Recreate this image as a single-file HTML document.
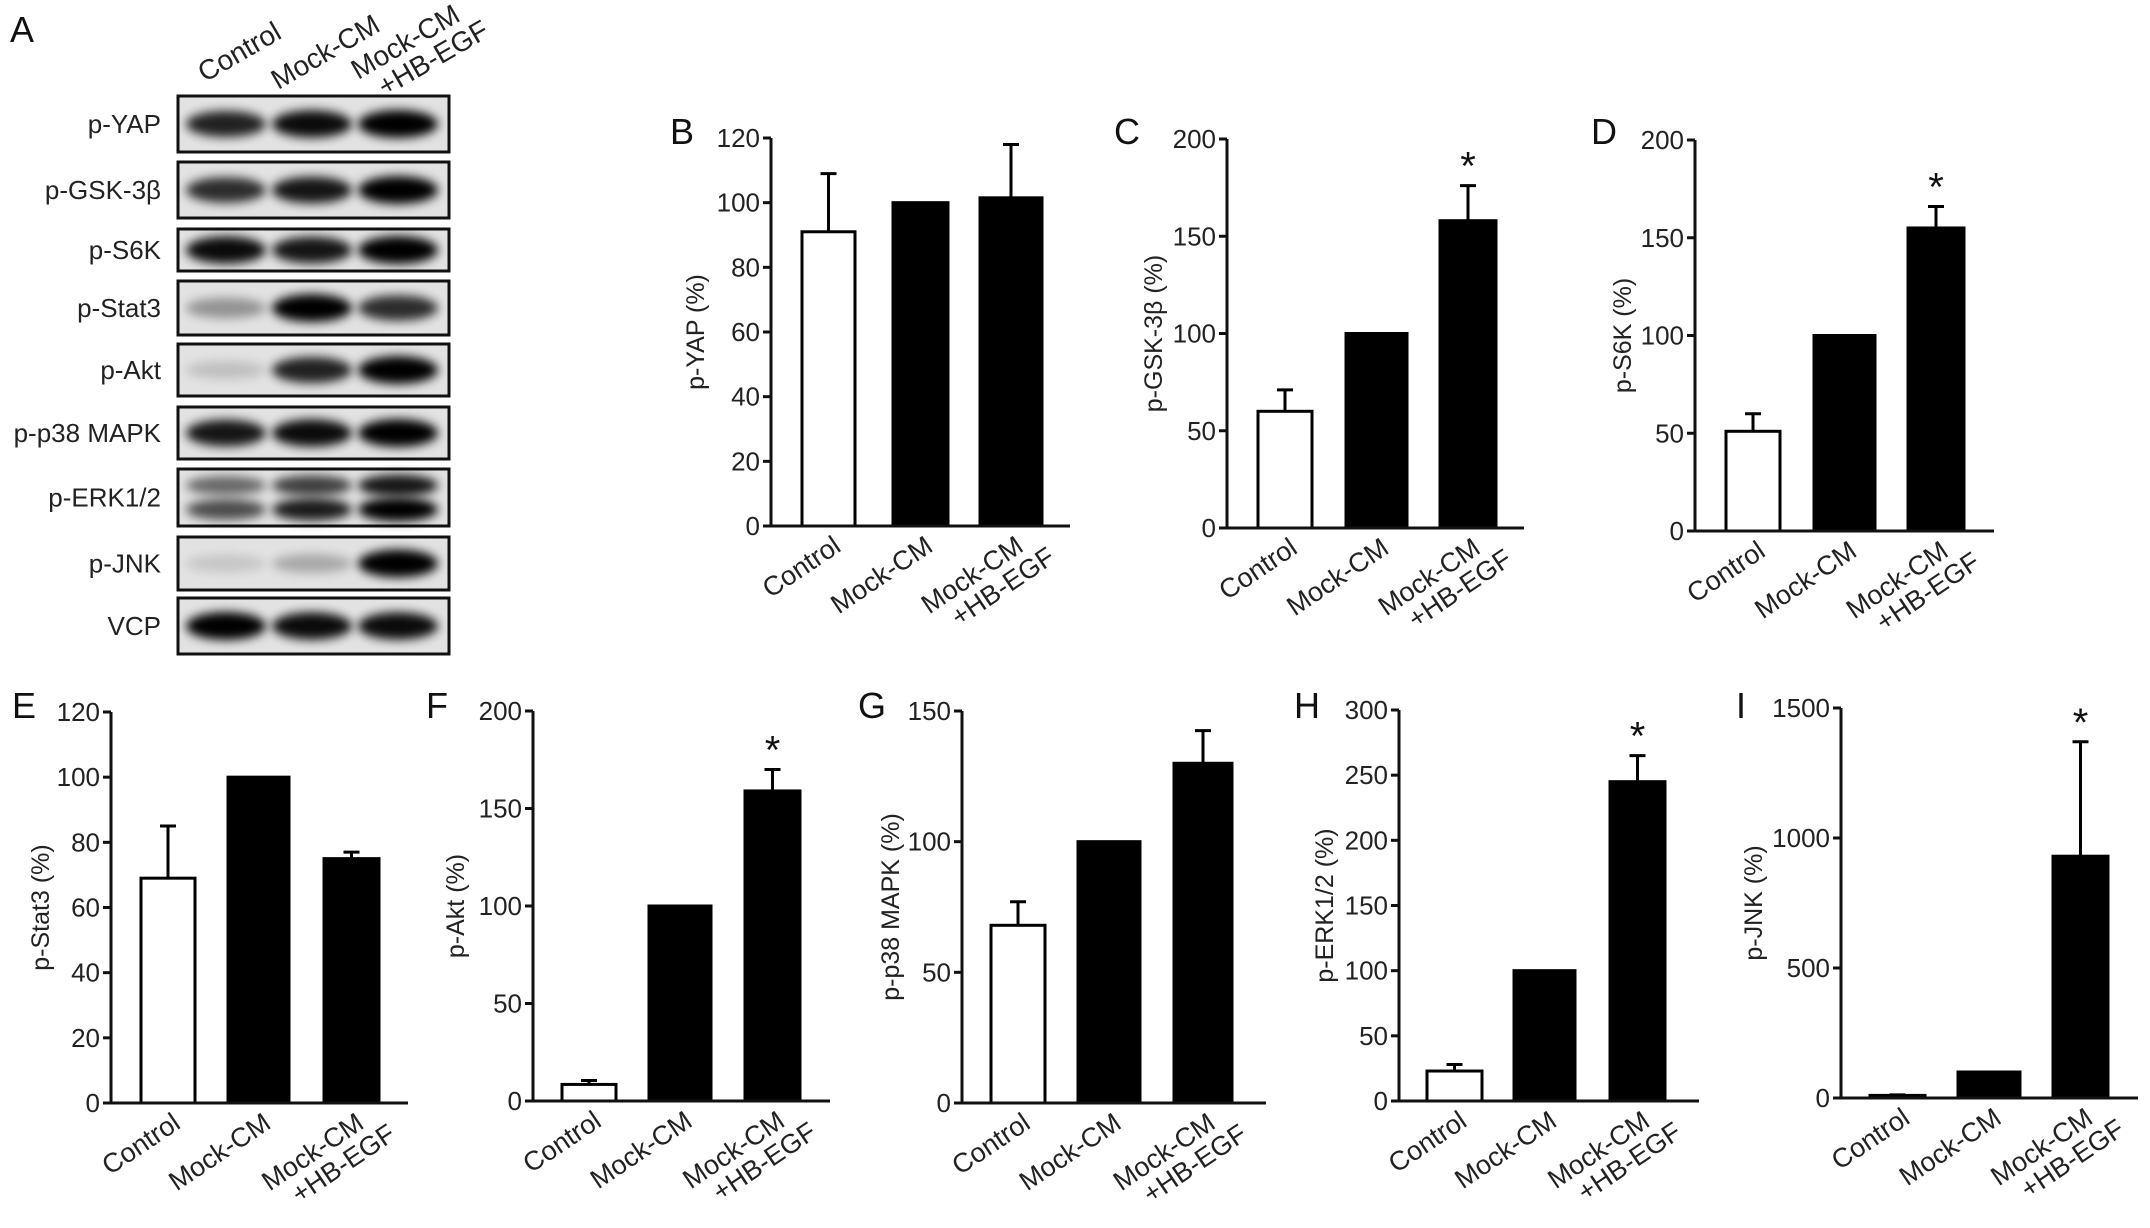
<!DOCTYPE html>
<html><head><meta charset="utf-8"><style>
html,body{margin:0;padding:0;background:#fff;}
svg{display:block;font-family:"Liberation Sans Narrow","Liberation Sans",sans-serif;}
</style></head><body>
<svg id="fig" width="2150" height="1228" viewBox="0 0 2150 1228" xmlns="http://www.w3.org/2000/svg">
<defs><filter id="blur" x="-30%" y="-100%" width="160%" height="300%"><feGaussianBlur stdDeviation="5"/></filter></defs>
<g id="blot"></g>
<g id="charts"></g>
</svg>
<script>
const categories = ["Control", "Mock-CM", "Mock-CM\n+HB-EGF"];
const blotLabels = ["p-YAP","p-GSK-3β","p-S6K","p-Stat3","p-Akt","p-p38 MAPK","p-ERK1/2","p-JNK","VCP"];
const yapValues = [91, 100, 101.5];
const yapErrors = [109, null, 118];
const gskValues = [60, 100, 158];
const gskErrors = [71, null, 176];
const s6kValues = [51, 100, 155];
const s6kErrors = [60, null, 166];
const stat3Values = [69, 100, 75];
const stat3Errors = [85, null, 77];
const aktValues = [8.5, 100, 159];
const aktErrors = [10.5, null, 170];
const p38Values = [68, 100, 130];
const p38Errors = [77, null, 142.5];
const erkValues = [23, 100, 245];
const erkErrors = [28, null, 265];
const jnkValues = [10, 100, 930];
const jnkErrors = [12, null, 1370];
const ticks120 = [0, 20, 40, 60, 80, 100, 120];
const ticks200 = [0, 50, 100, 150, 200];
const ticks150 = [0, 50, 100, 150];
const ticks300 = [0, 50, 100, 150, 200, 250, 300];
const ticks1500 = [0, 500, 1000, 1500];
const starsGsk = [false, false, true];
const starsNone = [false, false, false];

const NS = "http://www.w3.org/2000/svg";
function mk(tag, attrs, parent) {
  const e = document.createElementNS(NS, tag);
  for (const k in attrs) e.setAttribute(k, attrs[k]);
  parent.appendChild(e);
  return e;
}

// ---- Blot ----
const blot = document.getElementById('blot');
const rows = [[96,152],[162,218],[229,271],[281,335],[344,396],[407,459],[469,526],[537,590],[598,654]];
const bandI = [[0.85,0.95,1],[0.8,0.9,1],[0.95,0.9,1],[0.35,1,0.8],[0.15,0.85,1],[0.9,0.95,1],[0.6,0.8,1],[0.12,0.25,1],[1,0.95,0.95]];
const lanes = [226, 312, 398];
const A = mk('text', {x:10, y:42, 'font-size':36, fill:'#111', 'font-family':'Liberation Sans'}, blot);
A.textContent = 'A';


categories.forEach((c, i) => {
  const t = mk('text', {transform:`translate(${lanes[i]+ (i==2?12:18)},${i==2?50:60}) rotate(-30)`, 'font-size':28, fill:'#222', 'text-anchor':'middle'}, blot);
  
  
  c.split('\n').forEach((ln, j) => { const s = mk('tspan', {x: j*16, dy: j?'1.0em':'0'}, t); s.textContent = ln; });
});
rows.forEach((r, i) => {
  const g = mk('g', {}, blot);
  
  
  mk('rect', {x:178, y:r[0], width:271, height:r[1]-r[0], fill:'#e2e2e2', stroke:'#111', 'stroke-width':3}, g);
  const cy = (r[0]+r[1])/2;
  lanes.forEach((lx, j) => {
    const v = bandI[i][j];
    if (i === 6) {
      mk('ellipse', {cx:lx, cy:cy-12, rx:40, ry:7+4*v, fill:'#000', opacity:v*0.9, filter:'url(#blur)'}, g);
      mk('ellipse', {cx:lx, cy:cy+12, rx:40, ry:8+4*v, fill:'#000', opacity:Math.min(1,v*1.1), filter:'url(#blur)'}, g);
    } else {
      mk('ellipse', {cx:lx, cy:cy, rx:40, ry:8+6*v, fill:'#000', opacity:v, filter:'url(#blur)'}, g);
    }
  });
  const t = mk('text', {x:161, y:cy+9, 'font-size':26, fill:'#222', 'text-anchor':'end'}, g);
  t.textContent = blotLabels[i];
});

// ---- Charts ----
const charts = document.getElementById('charts');
function drawPanel(c) {
  const g = mk('g', {}, charts);
  
  
  const maxT = c.ticks[c.ticks.length-1];
  const yS = v => c.y0 - (v / maxT) * (c.y0 - c.yTop);
  const L = mk('text', {x:c.lx, y:c.ly, 'font-size':36, fill:'#111', 'font-family':'Liberation Sans'}, g);
  L.textContent = c.letter;
  
  
  c.values.forEach((v, i) => {
    const b = c.bars[i];
    const top = yS(v);
    const rect = mk('rect', {x:b[0], y:top, width:b[1]-b[0], height:c.y0-top, fill: i===0?'#fff':'#000', stroke:'#000', 'stroke-width':3}, g);
    
    
    const e = c.errs[i];
    if (e != null) {
      const cx = (b[0]+b[1])/2, ey = yS(e);
      const eb = mk('path', {d:`M${cx},${top} V${ey} M${cx-8},${ey} H${cx+8}`, stroke:'#000', 'stroke-width':3, fill:'none'}, g);
      
      
      if (c.stars[i]) {
        const s = mk('text', {x:cx, y:ey-6, 'font-size':40, 'text-anchor':'middle', fill:'#111', 'font-family':'Liberation Sans'}, g);
        s.textContent = '*';
        
        
      }
    }
  });
  const ax = mk('path', {d:`M${c.axisX},${c.yTop} V${c.y0} H${c.xEnd}`, stroke:'#111', 'stroke-width':3, fill:'none'}, g);
  
  
  c.ticks.forEach(t => {
    const y = yS(t);
    mk('line', {x1:c.axisX-8, x2:c.axisX, y1:y, y2:y, stroke:'#111', 'stroke-width':3}, g);
    const tl = mk('text', {x:c.axisX-11, y:y+9, 'font-size':26, 'text-anchor':'end', fill:'#222'}, g);
    tl.textContent = t;
    
    
  });
  const midY = (c.yTop + c.y0)/2;
  const yt = mk('text', {transform:`translate(${c.titleX},${midY}) rotate(-90)`, 'font-size':25, 'text-anchor':'middle', fill:'#222', 'font-family':'Liberation Sans'}, g);
  yt.textContent = c.title;
  
  
  categories.forEach((cat, i) => {
    const b = c.bars[i];
    const cx = (b[0]+b[1])/2 + 14;
    const t = mk('text', {transform:`translate(${cx},${c.y0+24}) rotate(-34)`, 'font-size':27, 'text-anchor':'end', fill:'#222'}, g);
    
    
    cat.split('\n').forEach((ln, j) => { const s = mk('tspan', {x: j*20, dy: j?'1.0em':'0'}, t); s.textContent = ln; });
  });
}
drawPanel({letter:'B', lx:670, ly:144, axisX:771, yTop:138, y0:526, xEnd:1070, ticks:ticks120, title:'p-YAP (%)', titleX:704,
  bars:[[802,855],[893,948],[980,1042]], values:yapValues, errs:yapErrors, stars:starsNone});
drawPanel({letter:'C', lx:1114, ly:144, axisX:1227, yTop:139, y0:528, xEnd:1524, ticks:ticks200, title:'p-GSK-3β (%)', titleX:1162,
  bars:[[1258,1312],[1346,1407],[1440,1496]], values:gskValues, errs:gskErrors, stars:starsGsk});
drawPanel({letter:'D', lx:1591, ly:144, axisX:1695, yTop:140, y0:531, xEnd:1994, ticks:ticks200, title:'p-S6K (%)', titleX:1631,
  bars:[[1726,1780],[1814,1875],[1908,1964]], values:s6kValues, errs:s6kErrors, stars:starsGsk});
drawPanel({letter:'E', lx:12, ly:718, axisX:111, yTop:712, y0:1103, xEnd:408, ticks:ticks120, title:'p-Stat3 (%)', titleX:49,
  bars:[[141,195],[228,289],[324,379]], values:stat3Values, errs:stat3Errors, stars:starsNone});
drawPanel({letter:'F', lx:426, ly:718, axisX:533, yTop:711, y0:1101, xEnd:830, ticks:ticks200, title:'p-Akt (%)', titleX:464,
  bars:[[562,616],[649,711],[745,800]], values:aktValues, errs:aktErrors, stars:starsGsk});
drawPanel({letter:'G', lx:858, ly:718, axisX:962, yTop:711, y0:1103, xEnd:1266, ticks:ticks150, title:'p-p38 MAPK (%)', titleX:899,
  bars:[[991,1045],[1078,1140],[1174,1232]], values:p38Values, errs:p38Errors, stars:starsNone});
drawPanel({letter:'H', lx:1294, ly:718, axisX:1399, yTop:710, y0:1101, xEnd:1699, ticks:ticks300, title:'p-ERK1/2 (%)', titleX:1333,
  bars:[[1427,1482],[1514,1575],[1610,1665]], values:erkValues, errs:erkErrors, stars:starsGsk});
drawPanel({letter:'I', lx:1736, ly:718, axisX:1841, yTop:708, y0:1098, xEnd:2138, ticks:ticks1500, title:'p-JNK (%)', titleX:1762,
  bars:[[1870,1925],[1958,2020],[2053,2108]], values:jnkValues, errs:jnkErrors, stars:starsGsk});
</script>
</body></html>
